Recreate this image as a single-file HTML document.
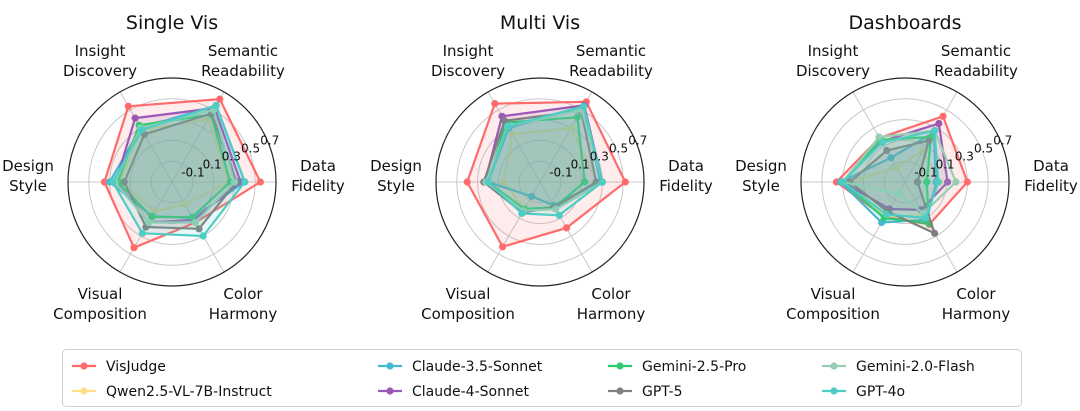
<!DOCTYPE html>
<html><head><meta charset="utf-8"><style>
html,body{margin:0;padding:0;background:#fff;}
svg{display:block;font-family:"DejaVu Sans","Liberation Sans",sans-serif;}
</style></head><body>
<svg id="s" width="1080" height="411" viewBox="0 0 1080 411" xmlns="http://www.w3.org/2000/svg"></svg>
<script>
var S=document.getElementById('s');
var cols=['#ff6b6b','#ffe08a','#45b7d1','#9b59b6','#2ecc71','#7f7f7f','#96ceb4','#4ecdc4'];
var charts=[
 {cx:172,cy:182,t:'Single Vis',d:[
  [0.85,0.92,0.84,0.65,0.73,0.45],
  [0.55,0.70,0.58,0.50,0.33,0.25],
  [0.70,0.85,0.60,0.60,0.38,0.40],
  [0.66,0.82,0.71,0.54,0.45,0.42],
  [0.56,0.75,0.63,0.52,0.39,0.39],
  [0.62,0.76,0.53,0.46,0.50,0.52],
  [0.60,0.80,0.60,0.55,0.45,0.45],
  [0.70,0.85,0.58,0.57,0.57,0.60]]},
 {cx:540,cy:182,t:'Multi Vis',d:[
  [0.82,0.89,0.87,0.70,0.72,0.51],
  [0.55,0.60,0.53,0.35,0.30,0.30],
  [0.58,0.84,0.60,0.50,0.16,0.26],
  [0.60,0.85,0.73,0.53,0.30,0.30],
  [0.43,0.72,0.66,0.50,0.30,0.28],
  [0.54,0.79,0.68,0.54,0.34,0.28],
  [0.60,0.80,0.62,0.52,0.32,0.30],
  [0.60,0.84,0.62,0.50,0.35,0.37]]},
 {cx:905,cy:182,t:'Dashboards',d:[
  [0.60,0.73,0.49,0.66,0.39,0.47],
  [0.33,0.35,0.16,0.55,0.38,0.38],
  [0.30,0.55,0.27,0.62,0.45,0.42],
  [0.41,0.65,0.45,0.60,0.30,0.31],
  [0.21,0.50,0.47,0.60,0.40,0.46],
  [0.12,0.46,0.35,0.53,0.33,0.57],
  [0.49,0.57,0.50,0.60,0.13,0.35],
  [0.32,0.57,0.44,0.60,0.36,0.40]]}
];
var R=104,h='';
charts.forEach(function(c){
 var cx=c.cx,cy=c.cy;
 h+='<text x="'+cx+'" y="29" font-size="19" text-anchor="middle" fill="#111">'+c.t+'</text>';
 [0.2,0.4,0.6,0.8].forEach(function(f){h+='<circle cx="'+cx+'" cy="'+cy+'" r="'+(R*f)+'" fill="none" stroke="#c8c8c8" stroke-width="1"/>';});
 for(var i=0;i<6;i++){var a=i*Math.PI/3;h+='<line x1="'+cx+'" y1="'+cy+'" x2="'+(cx+R*Math.cos(a))+'" y2="'+(cy-R*Math.sin(a))+'" stroke="#c8c8c8" stroke-width="1"/>';}
 h+='<circle cx="'+cx+'" cy="'+cy+'" r="'+R+'" fill="none" stroke="#222" stroke-width="1.2"/>';
 c.d.forEach(function(v,k){
  var pts=v.map(function(r,i){var a=i*Math.PI/3;return [cx+R*r*Math.cos(a),cy-R*r*Math.sin(a)];});
  var p=pts.map(function(q){return q[0].toFixed(1)+','+q[1].toFixed(1);}).join(' ');
  h+='<polygon points="'+p+'" fill="'+cols[k]+'" fill-opacity="'+(k==0?0.12:0.14)+'" stroke="'+cols[k]+'" stroke-width="2.2" stroke-linejoin="round"/>';
  pts.forEach(function(q){h+='<circle cx="'+q[0].toFixed(1)+'" cy="'+q[1].toFixed(1)+'" r="3.6" fill="'+cols[k]+'"/>';});
 });
 var tl=[['-0.1',0.2],['0.1',0.4],['0.3',0.6],['0.5',0.8],['0.7',1.0]];
 tl.forEach(function(t){var a=22.5*Math.PI/180,r=R*t[1]+4;h+='<text x="'+(cx+r*Math.cos(a)-2)+'" y="'+(cy-r*Math.sin(a)+4)+'" font-size="12" text-anchor="middle" fill="#111">'+t[0]+'</text>';});
 var L=[['Insight','Discovery',-72,56],['Semantic','Readability',71,56],['Design','Style',-144,171],['Data','Fidelity',146,171],['Visual','Composition',-72,299],['Color','Harmony',71,299]];
 L.forEach(function(l){h+='<text x="'+(cx+l[2])+'" y="'+l[3]+'" font-size="15" text-anchor="middle" fill="#111">'+l[0]+'</text><text x="'+(cx+l[2])+'" y="'+(l[3]+20)+'" font-size="15" text-anchor="middle" fill="#111">'+l[1]+'</text>';});
});
h+='<rect x="62.5" y="349.5" width="959" height="57" rx="4" fill="#fff" stroke="#d0d0d0" stroke-width="1"/>';
var leg=[['VisJudge',0,72,0],['Qwen2.5-VL-7B-Instruct',1,72,1],['Claude-3.5-Sonnet',2,378,0],['Claude-4-Sonnet',3,378,1],['Gemini-2.5-Pro',4,608,0],['GPT-5',5,608,1],['Gemini-2.0-Flash',6,822,0],['GPT-4o',7,822,1]];
leg.forEach(function(e){var y=e[3]?391:366;h+='<line x1="'+e[2]+'" y1="'+y+'" x2="'+(e[2]+24)+'" y2="'+y+'" stroke="'+cols[e[1]]+'" stroke-width="2.2"/><circle cx="'+(e[2]+12)+'" cy="'+y+'" r="3.6" fill="'+cols[e[1]]+'"/><text x="'+(e[2]+34)+'" y="'+(y+5)+'" font-size="14" fill="#111">'+e[0]+'</text>';});
S.innerHTML=h;
</script>
</body></html>
